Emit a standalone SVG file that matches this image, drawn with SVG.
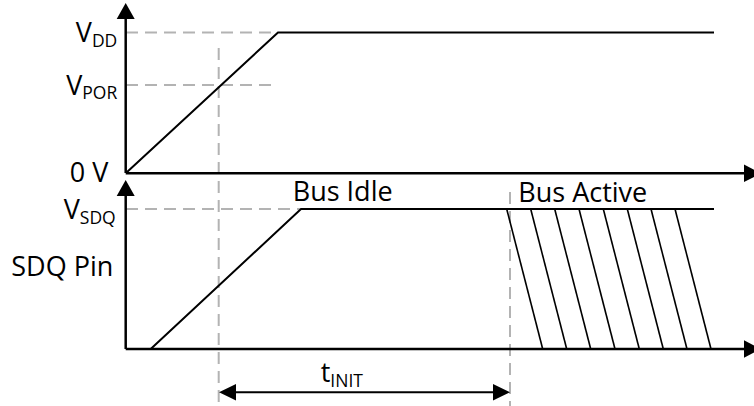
<svg xmlns="http://www.w3.org/2000/svg" width="754" height="406" viewBox="0 0 754 406">
  <defs>
    <style>
      .lbl { font-family: "Open Sans", "Liberation Sans", sans-serif; font-size: 27px; fill: #000; }
      .sub { font-size: 17.5px; }
      .axis { stroke: #000; stroke-width: 2.5; fill: none; }
      .sig { stroke: #000; stroke-width: 2; fill: none; stroke-linejoin: miter; }
      .dash { stroke: #b3b3b3; stroke-width: 2; stroke-dasharray: 12 7; fill: none; }
      .hatch { stroke: #000; stroke-width: 1.6; }
      .head { fill: #000; }
    </style>
  </defs>
  <rect width="754" height="406" fill="#fff"/>

  <g id="guides">
    <line class="dash" x1="126" y1="32.5" x2="278" y2="32.5"/>
    <line class="dash" x1="126" y1="85" x2="272" y2="85"/>
    <line class="dash" x1="126" y1="209" x2="300" y2="209"/>
    <line class="dash" x1="218.7" y1="48" x2="218.7" y2="406"/>
    <line class="dash" x1="510" y1="192" x2="510" y2="406"/>
  </g>

  <g id="upper-axes">
    <line class="axis" x1="125.7" y1="173" x2="125.7" y2="16"/>
    <polygon class="head" points="125.7,3 116.7,19 134.7,19"/>
    <line class="axis" x1="125.7" y1="173.3" x2="746" y2="173.3"/>
    <polygon class="head" points="761,173.3 744,164.5 744,182.1"/>
  </g>

  <g id="lower-axes">
    <line class="axis" x1="125.7" y1="349" x2="125.7" y2="193"/>
    <polygon class="head" points="125.7,180 116.7,196 134.7,196"/>
    <line class="axis" x1="125.7" y1="349" x2="746" y2="349"/>
    <polygon class="head" points="761,349 744,340.2 744,357.8"/>
  </g>

  <g id="vdd-signal">
    <polyline class="sig" points="126,173 278,32.5 714,32.5"/>
  </g>

  <g id="sdq-signal">
    <polyline class="sig" points="150.7,349 301,209 714,209"/>
  </g>

  <g id="bus-activity">
    <line class="hatch" x1="506.7" y1="209" x2="542.7" y2="349"/>
    <line class="hatch" x1="530.7" y1="209" x2="566.7" y2="349"/>
    <line class="hatch" x1="554.7" y1="209" x2="590.7" y2="349"/>
    <line class="hatch" x1="579" y1="209" x2="615" y2="349"/>
    <line class="hatch" x1="603.3" y1="209" x2="639.3" y2="349"/>
    <line class="hatch" x1="627.3" y1="209" x2="663.3" y2="349"/>
    <line class="hatch" x1="651" y1="209" x2="687" y2="349"/>
    <line class="hatch" x1="675" y1="209" x2="711" y2="349"/>
  </g>

  <g id="tinit-dimension">
    <line class="sig" x1="234" y1="392.3" x2="495" y2="392.3"/>
    <polygon class="head" points="219,392.3 236,384 236,400.6"/>
    <polygon class="head" points="510,392.3 493,384 493,400.6"/>
    <text class="lbl" x="320.7" y="381.7">t<tspan class="sub" font-size="18.5" dy="5">INIT</tspan></text>
  </g>

  <g id="labels">
    <text class="lbl" x="117.3" y="42.3" text-anchor="end">V<tspan class="sub" dy="4.4">DD</tspan></text>
    <text class="lbl" x="117.3" y="95" text-anchor="end">V<tspan class="sub" dy="4.3">POR</tspan></text>
    <text class="lbl" x="108.3" y="181.7" text-anchor="end">0 V</text>
    <text class="lbl" x="115.7" y="219.3" text-anchor="end">V<tspan class="sub" dy="4.7">SDQ</tspan></text>
    <text class="lbl" x="113.3" y="276" text-anchor="end">SDQ Pin</text>
    <text class="lbl" x="292.7" y="201">Bus Idle</text>
    <text class="lbl" x="518.3" y="201.7">Bus Active</text>
  </g>
</svg>
